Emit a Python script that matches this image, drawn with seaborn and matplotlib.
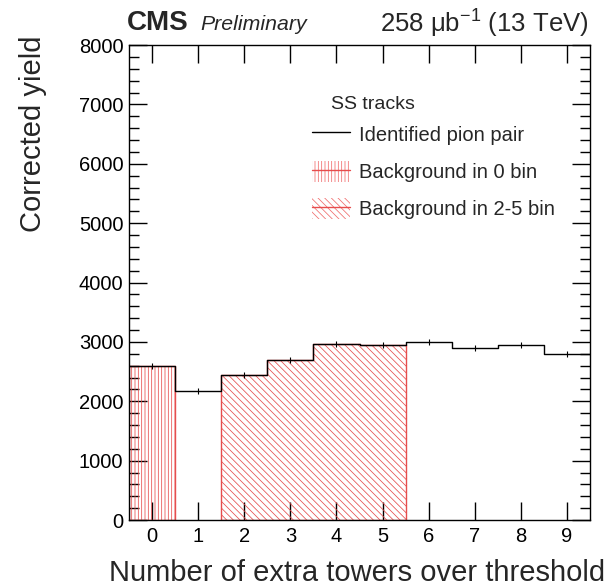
import matplotlib
matplotlib.use("Agg")
import matplotlib.pyplot as plt
import seaborn as sns
import numpy as np
import pandas as pd
from matplotlib.ticker import MultipleLocator
from matplotlib.lines import Line2D
from matplotlib.patches import Patch

# ---- data ----
bins = [0, 1, 2, 3, 4, 5, 6, 7, 8, 9]
yields = [2600, 2180, 2450, 2690, 2960, 2950, 3000, 2900, 2950, 2800]
yerr = [50, 50, 50, 50, 50, 50, 50, 50, 50, 50]
bg0_bins = [0]
bg0_vals = [2600]
bg25_bins = [2, 3, 4, 5]
bg25_vals = [2450, 2690, 2960, 2950]
xticks = [0, 1, 2, 3, 4, 5, 6, 7, 8, 9]

sns.set_theme(style="ticks")
plt.rcParams['font.family'] = ['Liberation Sans', 'DejaVu Sans']
plt.rcParams['hatch.linewidth'] = 0.55
plt.rcParams['hatch.color'] = (0.94, 0.42, 0.42)

fig = plt.figure(figsize=(6.15, 5.87), dpi=100)
ax = fig.add_axes([0.2098, 0.1141, 0.7496, 0.8092])

red = (0.9, 0.3, 0.3)
hatch_red = (0.94, 0.42, 0.42)
df = pd.DataFrame({"bin": bins, "y": yields})
d0 = pd.DataFrame({"bin": bg0_bins, "y": bg0_vals})
d25 = pd.DataFrame({"bin": bg25_bins, "y": bg25_vals})

sns.histplot(data=d0, x="bin", weights="y", discrete=True, element="step",
             fill=True, color=red, ax=ax)
sns.histplot(data=d25, x="bin", weights="y", discrete=True, element="step",
             fill=True, color=red, ax=ax)
for coll, h in zip(ax.collections[:2], ["|||||", "\\\\\\\\\\"]):
    coll.set_facecolor("none")
    coll.set_edgecolor(red)
    coll.set_hatch(h)
    coll.set_linewidth(1.0)
sns.histplot(data=df, x="bin", weights="y", discrete=True, element="step",
             fill=False, color="black", linewidth=1.0, ax=ax)
ax.errorbar(bins, yields, yerr=yerr, fmt="none", ecolor="black", elinewidth=0.8)

ax.set_xlim(-0.5, 9.5)
ax.set_ylim(0, 8000)
ax.set_xticks(xticks)
ax.yaxis.set_major_locator(MultipleLocator(1000))
ax.yaxis.set_minor_locator(MultipleLocator(200))
ax.tick_params(axis="both", which="both", direction="in", top=True, right=True,
               labelsize=14.5, colors="black", width=1.0)
ax.tick_params(axis="x", which="major", length=13, pad=5)
ax.tick_params(axis="y", which="major", length=13, pad=4)
ax.tick_params(axis="y", which="minor", length=7)
ax.tick_params(axis="x", which="minor", bottom=False, top=False)
for s in ax.spines.values():
    s.set_linewidth(1.0)
    s.set_color("black")
ax.set_xlabel("")
ax.set_ylabel("")

fig.text(0.984, 0.024, "Number of extra towers over threshold", ha="right", va="center", fontsize=21)
fig.text(0.054, 0.605, "Corrected yield", ha="center", va="bottom", rotation=90, fontsize=21)

fig.text(0.207, 0.961, "CMS", fontsize=20, fontweight="bold", ha="left", va="center")
fig.text(0.325, 0.959, "Preliminary", fontsize=15.3, style="italic", ha="left", va="center")
fig.text(0.957, 0.961, r"258 μb$^{\mathregular{-1}}$ (13 TeV)", fontsize=18.5, ha="right", va="center")

# legend header
fig.text(0.538, 0.822, "SS tracks", fontsize=14, ha="left", va="center")

handles = [
    Line2D([], [], color="black", lw=1.0),
    (Patch(facecolor="none", edgecolor=hatch_red, hatch="|||||", lw=0),
     Line2D([], [], color=red, lw=1.0)),
    (Patch(facecolor="none", edgecolor=hatch_red, hatch="\\\\\\\\\\", lw=0),
     Line2D([], [], color=red, lw=1.0)),
]
labels = ["Identified pion pair", "Background in 0 bin", "Background in 2-5 bin"]
leg = ax.legend(handles, labels, loc="upper left",
                bbox_to_anchor=(0.38, 0.851), frameon=False, fontsize=14.5,
                handlelength=1.85, handleheight=1.2, borderaxespad=0,
                labelspacing=0.8, handletextpad=0.45)

fig.savefig("out.png", dpi=100)
